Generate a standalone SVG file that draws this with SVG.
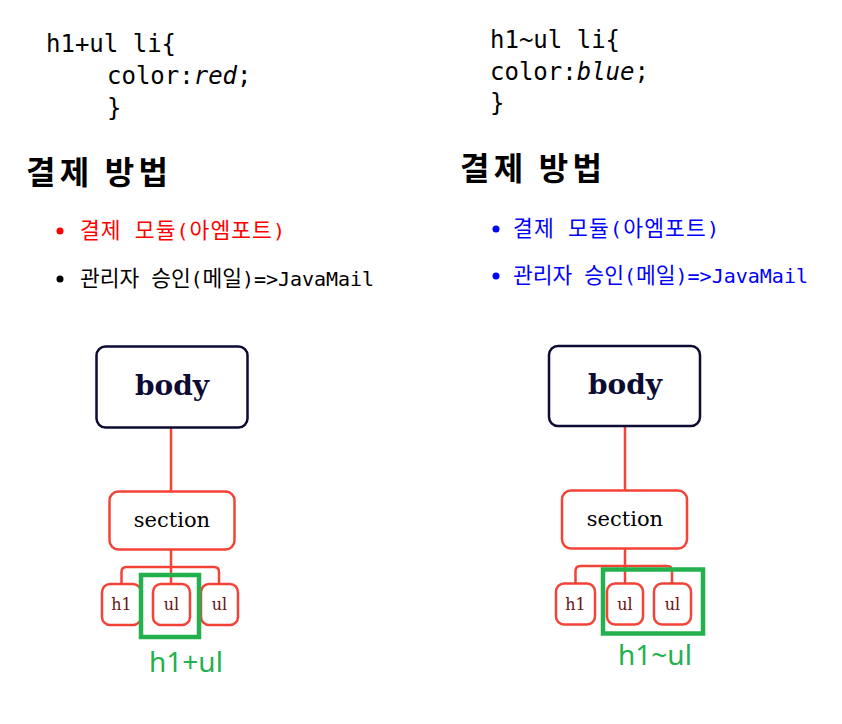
<svg xmlns="http://www.w3.org/2000/svg" width="842" height="724" viewBox="0 0 842 724">
<style>
.code{font-family:"DejaVu Sans Mono",monospace;font-size:24px;fill:#000}
.head{font-family:"Noto Sans CJK KR","Noto Sans",sans-serif;font-size:32px;font-weight:bold;fill:#000}
.li{font-family:"DejaVu Sans Mono","Noto Sans CJK KR",monospace;font-size:20px}
.ko{font-family:"Noto Sans CJK KR",sans-serif;font-size:21.5px}
.bodybox{fill:#fff;stroke:#0b0b33;stroke-width:2.5}
.bodytxt{font-family:"DejaVu Serif",serif;font-size:28px;font-weight:bold;fill:#0b0b33;text-anchor:middle}
.rbox{fill:#fff;stroke:#f44336;stroke-width:2.5}
.sectxt{font-family:"DejaVu Serif",serif;font-size:21px;fill:#000;text-anchor:middle}
.chtxt{font-family:"DejaVu Serif",serif;font-size:16px;fill:#6a1010;text-anchor:middle}
.conn{fill:none;stroke:#f44336;stroke-width:2.5}
.green{fill:none;stroke:#22b14c;stroke-width:4.5}
.gtxt{font-family:"Noto Sans",sans-serif;font-size:28px;fill:#22b14c}
</style>

<g id="code-left">
<text class="code" x="46" y="52">h1+ul li{</text>
<text class="code" x="107" y="84">color:<tspan font-style="italic">red</tspan>;</text>
<text class="code" x="107" y="116">}</text>
</g>
<g id="code-right">
<text class="code" x="490" y="48">h1~ul li{</text>
<text class="code" x="490" y="80">color:<tspan font-style="italic">blue</tspan>;</text>
<text class="code" x="490" y="111">}</text>
</g>

<g id="heading-left"><text class="head" x="26" y="184" textLength="142" lengthAdjust="spacing">결제 방법</text></g>
<g id="heading-right"><text class="head" x="460" y="180" textLength="142" lengthAdjust="spacing">결제 방법</text></g>

<g id="list-left">
<circle cx="60" cy="231" r="3.5" fill="#f00"/>
<text class="li" x="80" y="238" fill="#f00" textLength="205" lengthAdjust="spacing"><tspan class="ko">결제</tspan> <tspan class="ko">모듈</tspan>(<tspan class="ko">아엠포트</tspan>)</text>
<circle cx="60" cy="279" r="3.5" fill="#000"/>
<text class="li" x="80" y="286" fill="#000" textLength="294" lengthAdjust="spacing"><tspan class="ko">관리자</tspan> <tspan class="ko">승인</tspan>(<tspan class="ko">메일</tspan>)=&gt;JavaMail</text>
</g>
<g id="list-right">
<circle cx="496" cy="229" r="3.5" fill="#00f"/>
<text class="li" x="513" y="236" fill="#00f" textLength="206" lengthAdjust="spacing"><tspan class="ko">결제</tspan> <tspan class="ko">모듈</tspan>(<tspan class="ko">아엠포트</tspan>)</text>
<circle cx="496" cy="276" r="3.5" fill="#00f"/>
<text class="li" x="513" y="283" fill="#00f" textLength="295" lengthAdjust="spacing"><tspan class="ko">관리자</tspan> <tspan class="ko">승인</tspan>(<tspan class="ko">메일</tspan>)=&gt;JavaMail</text>
</g>

<g id="connectors">
<path class="conn" d="M171,427 V491"/>
<path class="conn" d="M171,550 V584"/>
<path class="conn" d="M121.5,584 V572 Q121.5,567 126.5,567 H214 Q219,567 219,572 V584"/>
<path class="conn" d="M625,427 V490"/>
<path class="conn" d="M625,549 V583"/>
<path class="conn" d="M575.5,583 V571 Q575.5,566 580.5,566 H667 Q672,566 672,571 V583"/>
</g>

<g id="body-left"><rect class="bodybox" x="96.5" y="346.5" width="151" height="81" rx="9"/><text class="bodytxt" x="172" y="395">body</text></g>
<g id="section-left"><rect class="rbox" x="109.5" y="491.5" width="125" height="58" rx="9"/><text class="sectxt" x="172" y="527">section</text></g>
<g id="h1-left"><rect class="rbox" x="102" y="584" width="39" height="41" rx="8"/><text class="chtxt" x="121.5" y="610">h1</text></g>
<g id="ul1-left"><rect class="rbox" x="153" y="584" width="37" height="41" rx="8"/><text class="chtxt" x="171.5" y="610">ul</text></g>
<g id="ul2-left"><rect class="rbox" x="201" y="584" width="37" height="41" rx="8"/><text class="chtxt" x="219.5" y="610">ul</text></g>
<g id="highlight-left"><rect class="green" x="141" y="575" width="58" height="62"/><text class="gtxt" x="149" y="672">h1+ul</text></g>

<g id="body-right"><rect class="bodybox" x="549" y="346" width="151" height="80" rx="9"/><text class="bodytxt" x="625" y="394">body</text></g>
<g id="section-right"><rect class="rbox" x="562" y="490.5" width="125" height="58" rx="9"/><text class="sectxt" x="625" y="526">section</text></g>
<g id="h1-right"><rect class="rbox" x="556" y="583.5" width="39" height="41" rx="8"/><text class="chtxt" x="575.5" y="609.5">h1</text></g>
<g id="ul1-right"><rect class="rbox" x="607" y="583.5" width="36" height="41" rx="8"/><text class="chtxt" x="625" y="609.5">ul</text></g>
<g id="ul2-right"><rect class="rbox" x="654" y="583.5" width="37" height="41" rx="8"/><text class="chtxt" x="672.5" y="609.5">ul</text></g>
<g id="highlight-right"><rect class="green" x="603" y="569.5" width="100" height="64"/><text class="gtxt" x="618" y="665">h1~ul</text></g>
</svg>
